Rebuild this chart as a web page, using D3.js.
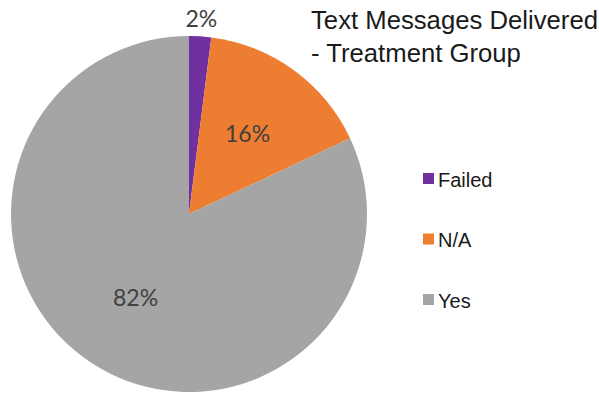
<!DOCTYPE html>
<html>
<head>
<meta charset="utf-8">
<script src="https://cdn.jsdelivr.net/npm/d3@7"></script>
<style>
  html, body { margin: 0; padding: 0; background: #fff; }
  svg { display: block; }
</style>
</head>
<body>
<svg id="chart" width="599" height="397"></svg>
<script>
// Delivery status of text messages, treatment group (percent)
const categories = ["Failed", "N/A", "Yes"];
const values = [2, 16, 82];
const colors = ["#7030A0", "#ED7D31", "#A5A5A5"];
const titleLines = ["Text Messages Delivered", "- Treatment Group"];

const svg = d3.select("#chart");
const cx = 189, cy = 214, r = 178;

const pie = d3.pie().sort(null).value(d => d.value);
const arcs = pie(categories.map((c, i) => ({ name: c, value: values[i], color: colors[i] })));

const arc = d3.arc().innerRadius(0).outerRadius(r);
const inLabel = d3.arc().innerRadius(r * 0.56).outerRadius(r * 0.56);
const outLabel = d3.arc().innerRadius(r + 18).outerRadius(r + 18);

const g = svg.append("g").attr("transform", `translate(${cx},${cy})`);

g.selectAll("path.slice")
  .data(arcs)
  .join("path")
  .attr("class", "slice")
  .attr("d", arc)
  .attr("fill", d => d.data.color);

// Percentage labels; slices too thin for inside text get theirs outside the rim
g.selectAll("text.pct")
  .data(arcs)
  .join("text")
  .attr("class", "pct")
  .attr("transform", d => {
    const small = (d.endAngle - d.startAngle) < 0.2;
    const [x, y] = (small ? outLabel : inLabel).centroid(d);
    return `translate(${x},${y})`;
  })
  .attr("text-anchor", "middle")
  .attr("dy", "0.36em")
  .attr("font-family", "Lato, 'Open Sans', sans-serif")
  .attr("font-size", 23)
  .attr("fill", "#404040")
  .text(d => d.data.value + "%");

// Title
svg.append("g")
  .selectAll("text")
  .data(titleLines)
  .join("text")
  .attr("x", 311)
  .attr("y", (d, i) => 29 + i * 33)
  .attr("font-family", "'Liberation Sans', Arial, sans-serif")
  .attr("font-size", 25.7)
  .attr("fill", "#1a1a1a")
  .text(d => d);

// Legend
const legend = svg.append("g")
  .selectAll("g")
  .data(categories)
  .join("g")
  .attr("transform", (d, i) => `translate(423,${173 + i * 60.5})`);

legend.append("rect")
  .attr("width", 11)
  .attr("height", 11)
  .attr("fill", (d, i) => colors[i]);

legend.append("text")
  .attr("x", 15)
  .attr("y", 13.5)
  .attr("font-family", "'Liberation Sans', Arial, sans-serif")
  .attr("font-size", 20)
  .attr("fill", "#1a1a1a")
  .text(d => d);
</script>
</body>
</html>
